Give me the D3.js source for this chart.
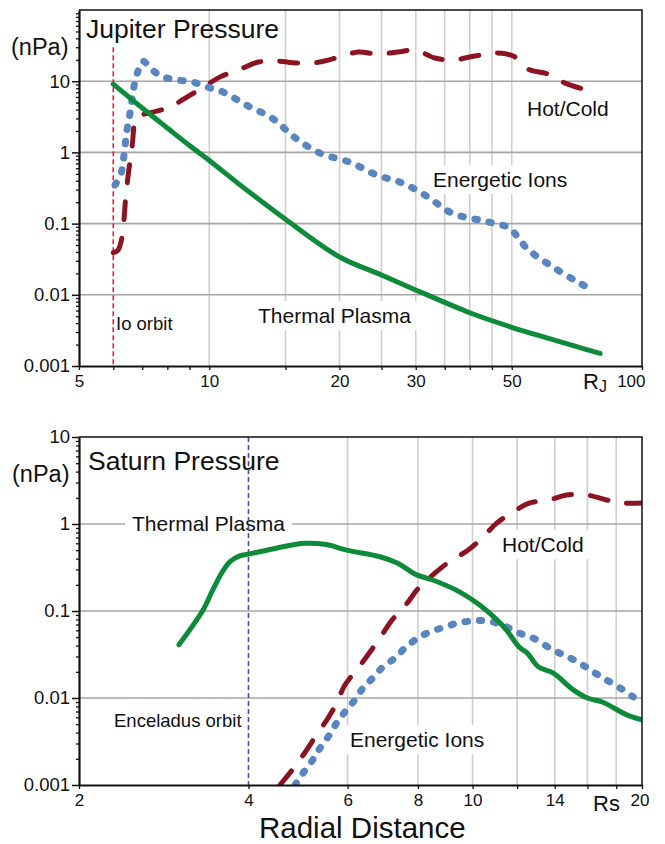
<!DOCTYPE html>
<html>
<head>
<meta charset="utf-8">
<script src="https://cdn.jsdelivr.net/npm/d3@7"></script>
<style>
  body { margin: 0; background: #fff; }
  svg { display: block; }
  text { fill: #111; }
</style>
</head>
<body>
<script>
// values: [radial distance, pressure nPa]
const jupiterThermal = [[6, 9.1], [7, 4.2], [8, 2.2], [9, 1.25], [10, 0.77], [12, 0.32], [15, 0.115],
  [20, 0.034], [25, 0.019], [30, 0.0117], [40, 0.0056], [50, 0.0035], [60, 0.0025], [70, 0.0019], [80, 0.0015]];
const jupiterIons = [[6.06, 0.35], [6.25, 0.5], [6.35, 0.9], [6.45, 2.0], [6.58, 4.0], [6.7, 8.5], [6.85, 14],
  [7.03, 19], [7.38, 14.4], [7.82, 11.5], [8.47, 10.4], [9.17, 9.7], [9.88, 8.3], [10.76, 7.05], [12.2, 4.6],
  [14, 3.0], [15.8, 1.6], [18, 0.98], [21.1, 0.73], [24.4, 0.48], [28, 0.37], [31.9, 0.24], [36.4, 0.14],
  [42.2, 0.112], [45.8, 0.1], [49.3, 0.087], [54.6, 0.043], [62.3, 0.0245], [71.1, 0.0151], [76.7, 0.0117]];
const jupiterHot = [[6.0, 0.039], [6.15, 0.042], [6.29, 0.065], [6.36, 0.124], [6.42, 0.26], [6.63, 1.19],
  [6.81, 3.1], [7.3, 3.6], [8.1, 4.3], [8.8, 5.8], [9.7, 8.3], [10.6, 11.5], [11.8, 14.8], [13, 18.6],
  [14.3, 19.2], [16, 18], [18, 18.6], [20, 21.9], [22.1, 25.7], [24.4, 24.1], [27.3, 25.7], [29.9, 27.4],
  [33.2, 21.2], [36.6, 19.9], [41.1, 22.6], [45.3, 24.9], [50.4, 22.6], [54.5, 14.8], [60.6, 12.6],
  [66.4, 9.4], [74.6, 7.5]];

const saturnThermal = [[3.01, 0.041], [3.32, 0.102], [3.45, 0.17], [3.58, 0.27], [3.71, 0.37], [3.86, 0.43],
  [4.0, 0.45], [4.5, 0.53], [5.03, 0.6], [5.5, 0.58], [5.98, 0.5], [6.85, 0.42], [7.35, 0.356], [7.96, 0.26],
  [8.5, 0.227], [9.5, 0.165], [10.3, 0.117], [11.05, 0.079], [11.5, 0.06], [12.1, 0.0385], [12.5, 0.033],
  [13.1, 0.0227], [13.9, 0.0194], [15.1, 0.0124], [16, 0.01], [17, 0.009], [18.8, 0.0064], [20, 0.0056]];
const saturnIons = [[4.84, 0.001], [5.0, 0.00137], [5.19, 0.0019], [5.36, 0.00266], [5.54, 0.00357],
  [5.74, 0.0052], [5.93, 0.0069], [6.18, 0.0095], [6.39, 0.013], [6.65, 0.017], [6.93, 0.0227], [7.28, 0.0288],
  [7.59, 0.0376], [8.0, 0.049], [8.4, 0.0574], [8.93, 0.0655], [9.42, 0.0728], [10, 0.077], [10.6, 0.077],
  [11.3, 0.069], [12, 0.057], [12.8, 0.049], [13.9, 0.0356], [14.8, 0.0296], [15.7, 0.0239], [16.5, 0.0194],
  [17.3, 0.0161], [18.3, 0.013], [19.3, 0.0103]];
const saturnHot = [[4.55, 0.001], [4.81, 0.00156], [5.0, 0.0022], [5.29, 0.0038], [5.55, 0.006], [5.75, 0.009],
  [5.93, 0.014], [6.26, 0.022], [6.58, 0.034], [6.9, 0.053], [7.2, 0.079], [7.66, 0.124], [8.0, 0.18],
  [8.5, 0.26], [9.1, 0.37], [9.77, 0.49], [10.4, 0.69], [11.05, 1.03], [11.8, 1.37], [12.6, 1.74],
  [13.7, 1.89], [14.7, 2.15], [16, 2.15], [17.3, 1.89], [18.5, 1.74], [20, 1.74]];

// axes
const jupiterXTicks = [5, 6, 7, 8, 9, 10, 15, 20, 25, 30, 35, 40, 45, 50, 100];
const jupiterXLabels = [5, 10, 20, 30, 50, 100];
const jupiterXGrid = [10, 15, 20, 25, 30, 35, 40, 45, 50];
const saturnXTicks = [2, 4, 6, 8, 10, 12, 14, 16, 18, 20];
const saturnXLabels = [2, 4, 6, 8, 10, 14, 20];
const saturnXGrid = [6, 8, 10, 12, 14, 16, 18];
const yMajors = [0.001, 0.01, 0.1, 1, 10];

const W = 665, H = 844;
const L = 79, R = 642;

const svg = d3.select("body").append("svg")
  .attr("width", W).attr("height", H)
  .attr("font-family", '"Liberation Sans", Arial, Helvetica, sans-serif');

function drawPanel(p) {
  const x = d3.scaleLog().domain(p.xDomain).range([L, R]);
  const y = d3.scaleLog().domain(p.yDomain).range([p.bottom, p.top]);
  const g = svg.append("g");

  g.append("g").selectAll("line").data(p.gridX).join("line")
    .attr("x1", d => x(d)).attr("x2", d => x(d))
    .attr("y1", p.top).attr("y2", p.bottom)
    .attr("stroke", "#d3cecb").attr("stroke-width", 1.6);

  g.append("g").selectAll("line").data(p.gridY).join("line")
    .attr("x1", L).attr("x2", R)
    .attr("y1", d => y(d)).attr("y2", d => y(d))
    .attr("stroke", "#a9a5a2").attr("stroke-width", 1.6);

  // labels, some on white boxes that cut the grid
  const lab = g.append("g");
  p.labels.forEach(l => {
    const t = lab.append("text").attr("x", l.x).attr("y", l.y)
      .attr("font-size", l.size).text(l.text);
    if (l.box) {
      const b = t.node().getBBox();
      lab.insert("rect", () => t.node())
        .attr("x", b.x - 7).attr("y", b.y - 3)
        .attr("width", b.width + 14).attr("height", b.height + 6)
        .attr("fill", "#fff");
    }
  });

  // orbit marker
  g.append("line")
    .attr("x1", x(p.orbit)).attr("x2", x(p.orbit))
    .attr("y1", y(p.orbitTop)).attr("y2", p.bottom)
    .attr("stroke", p.orbitColor).attr("stroke-width", 1.6)
    .attr("stroke-dasharray", "5 3");

  const clipId = "clip-" + p.name;
  svg.append("clipPath").attr("id", clipId)
    .append("rect").attr("x", L).attr("y", p.top)
    .attr("width", R - L).attr("height", p.bottom - p.top);

  const line = d3.line()
    .x(d => x(d[0])).y(d => y(d[1]))
    .curve(d3.curveCatmullRom.alpha(0.5));

  const curves = g.append("g").attr("clip-path", `url(#${clipId})`)
    .attr("fill", "none").attr("stroke-linecap", "round").attr("stroke-linejoin", "round");

  curves.append("path").datum(p.hot).attr("d", line)
    .attr("stroke", "#8b1322").attr("stroke-width", 5)
    .attr("stroke-dasharray", "18 19");
  curves.append("path").datum(p.ions).attr("d", line)
    .attr("stroke", "#5a86bf").attr("stroke-width", 7)
    .attr("stroke-dasharray", "2.5 11.8");
  curves.append("path").datum(p.thermal).attr("d", line)
    .attr("stroke", "#0d8b3a").attr("stroke-width", 5);

  // frame
  g.append("path")
    .attr("d", `M${L},${p.top}H${R}V${p.bottom}`)
    .attr("fill", "none").attr("stroke", "#111").attr("stroke-width", 1.5);

  // y axis
  const minors = [];
  yMajors.concat([100]).forEach(m => {
    for (let k = 2; k < 10; k++) {
      const v = m * k;
      if (v < p.yDomain[1]) minors.push(v);
    }
  });
  g.append("g").attr("transform", `translate(${L},0)`)
    .call(d3.axisLeft(y).tickValues(minors).tickSize(3).tickSizeOuter(0).tickFormat(""))
    .call(a => a.select(".domain").remove())
    .selectAll("line").attr("stroke", "#111").attr("stroke-width", 1.3);
  const ya = g.append("g").attr("transform", `translate(${L},0)`)
    .call(d3.axisLeft(y).tickValues(p.yLabels).tickSize(7).tickSizeOuter(0)
      .tickPadding(2).tickFormat(d => String(d)));
  ya.select(".domain").attr("stroke", "#111").attr("stroke-width", 2.2);
  ya.selectAll("line").attr("stroke", "#111").attr("stroke-width", 1.5);
  ya.selectAll("text").attr("font-size", 18.5).attr("font-family", null).attr("fill", "#111");

  // x axis
  const xa = g.append("g").attr("transform", `translate(0,${p.bottom})`)
    .call(d3.axisBottom(x).tickValues(p.xTicks).tickSize(4).tickSizeOuter(0)
      .tickPadding(5).tickFormat(d => p.xLabels.includes(d) ? String(d) : ""));
  xa.select(".domain").attr("stroke", "#111").attr("stroke-width", 2.2);
  xa.selectAll("line").attr("stroke", "#111").attr("stroke-width", 1.3);
  xa.selectAll("text").attr("font-size", 17).attr("font-family", null).attr("fill", "#111");
  xa.selectAll(".tick").filter(d => d === p.xDomain[1]).select("text")
    .attr("text-anchor", "end").attr("dx", p.lastDx);
  return g;
}

const jupiterPanel = drawPanel({
  name: "jupiter", xDomain: [5, 100], yDomain: [0.001, 100], top: 10, bottom: 366,
  gridX: jupiterXGrid, gridY: [0.01, 0.1, 1, 10], xTicks: jupiterXTicks, xLabels: jupiterXLabels,
  yLabels: yMajors, lastDx: 3,
  orbit: 6, orbitTop: 30, orbitColor: "#e8203c",
  thermal: jupiterThermal, ions: jupiterIons, hot: jupiterHot,
  labels: [
    { text: "Jupiter Pressure", x: 86, y: 38, size: 26.5 },
    { text: "(nPa)", x: 11, y: 55, size: 23.5 },
    { text: "Hot/Cold", x: 527, y: 116, size: 21 },
    { text: "Energetic Ions", x: 433, y: 187, size: 21, box: true },
    { text: "Thermal Plasma", x: 258, y: 323, size: 21, box: true },
    { text: "Io orbit", x: 116, y: 330, size: 18.5 }
  ]
});
jupiterPanel.append("text").attr("x", 583).attr("y", 389).attr("font-size", 22).text("R")
  .append("tspan").attr("font-size", 16).attr("dy", 3).text("J");

const saturnPanel = drawPanel({
  name: "saturn", xDomain: [2, 20], yDomain: [0.001, 10], top: 437, bottom: 785,
  gridX: saturnXGrid, gridY: [0.01, 0.1, 1], xTicks: saturnXTicks, xLabels: saturnXLabels,
  yLabels: yMajors, lastDx: 7,
  orbit: 4, orbitTop: 10, orbitColor: "#4b4b9c",
  thermal: saturnThermal, ions: saturnIons, hot: saturnHot,
  labels: [
    { text: "Saturn Pressure", x: 88, y: 470, size: 26.5 },
    { text: "(nPa)", x: 12, y: 482, size: 23.5 },
    { text: "Thermal Plasma", x: 132, y: 531, size: 21, box: true },
    { text: "Hot/Cold", x: 502, y: 552, size: 21, box: true },
    { text: "Energetic Ions", x: 350, y: 747, size: 21, box: true },
    { text: "Enceladus orbit", x: 114, y: 727, size: 18.5 }
  ]
});
saturnPanel.append("text").attr("x", 593).attr("y", 811).attr("font-size", 22).text("Rs");
svg.append("text").attr("x", 259).attr("y", 837.5).attr("font-size", 29.5).text("Radial Distance");
</script>
</body>
</html>
